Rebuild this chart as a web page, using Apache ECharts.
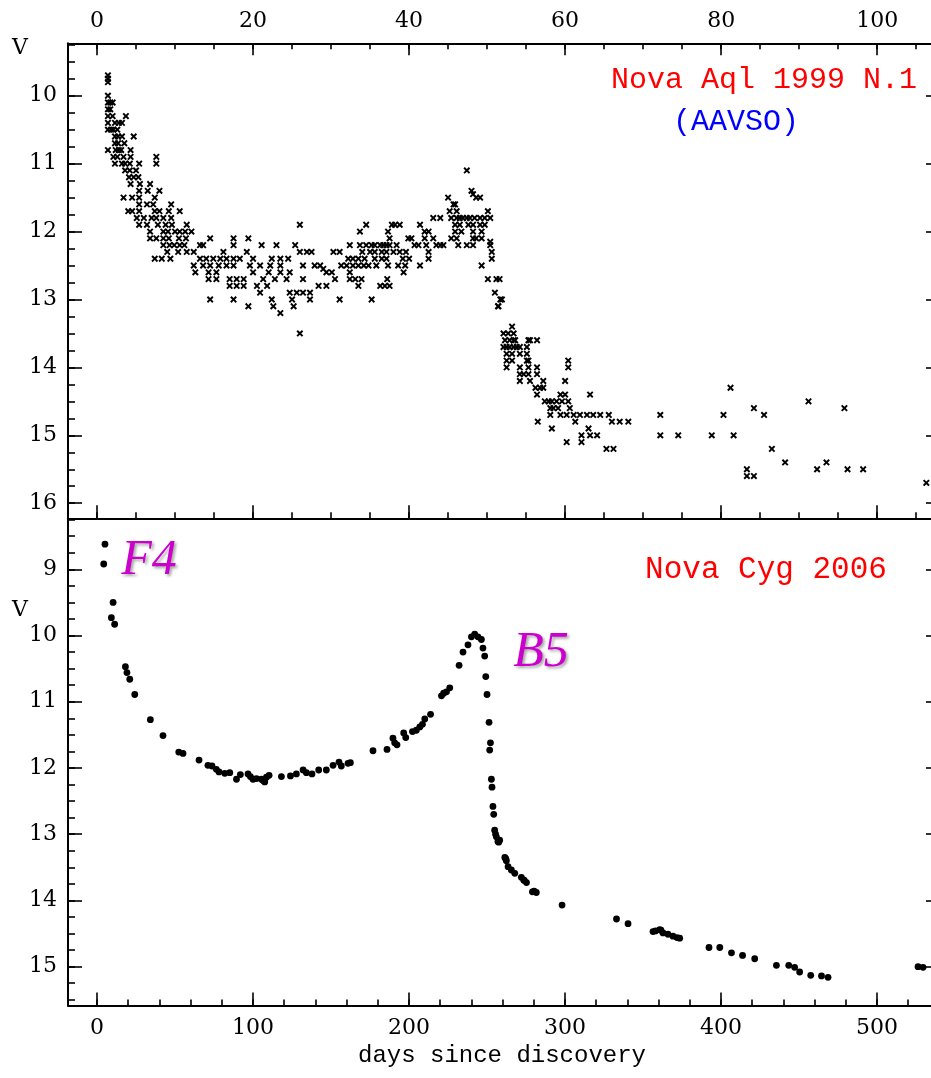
<!DOCTYPE html>
<html><head><meta charset="utf-8">
<script src="https://cdn.jsdelivr.net/npm/echarts@6.0.0/dist/echarts.min.js"></script>
<style>html,body{margin:0;padding:0;background:#fff}#c{width:931px;height:1078px}</style>
</head><body><div id="c"></div>
<script>
// ---- Nova Aql 1999 N.1 (AAVSO) : [day, V] ----
const aqlRise = [[1.4,9.7],[1.4,9.75],[1.4,9.8],[1.4,10.0],[1.4,10.1],[1.7,10.1],[2.0,10.1],[1.4,10.2],[1.7,10.2],[1.4,10.3],[2.0,10.3],[3.7,10.3],[1.4,10.4],[2.3,10.4],[2.8,10.4],[3.2,10.4],[1.4,10.5],[1.8,10.5],[2.1,10.5],[2.6,10.5],[2.3,10.6],[2.7,10.6],[3.2,10.6],[4.7,10.6],[2.3,10.7],[2.7,10.7],[3.5,10.7],[1.4,10.8],[2.4,10.8],[2.8,10.8],[3.1,10.8],[4.3,10.8],[2.1,10.9],[2.6,10.9],[3.4,10.9],[4.3,10.9],[7.6,10.9],[2.3,11.0],[3.2,11.0],[3.6,11.0],[4.2,11.0],[5.4,11.0],[7.6,11.0],[3.6,11.1],[4.2,11.1],[5.0,11.1],[4.1,11.2],[4.7,11.2],[5.3,11.2],[4.3,11.3],[5.5,11.3],[6.8,11.3],[5.4,11.4],[6.5,11.4],[8.0,11.4],[3.4,11.5],[4.5,11.5],[5.4,11.5],[7.4,11.5],[5.4,11.6],[6.4,11.6],[7.2,11.6],[9.5,11.6],[4.0,11.7],[4.5,11.7],[5.4,11.7],[7.4,11.7],[8.0,11.7],[9.2,11.7],[10.6,11.7],[5.1,11.8],[6.0,11.8],[7.0,11.8],[7.6,11.8],[8.5,11.8],[9.5,11.8],[5.4,11.9],[6.4,11.9],[7.8,11.9],[8.8,11.9],[9.6,11.9],[11.5,11.9],[6.8,12.0],[8.5,12.0],[9.1,12.0],[10.0,12.0],[10.6,12.0],[11.3,12.0],[12.1,12.0],[6.8,12.1],[7.6,12.1],[8.5,12.1],[9.2,12.1],[10.5,12.1],[11.4,12.1],[8.5,12.2],[9.3,12.2],[9.9,12.2],[10.6,12.2],[11.2,12.2],[9.0,12.3],[10.4,12.3],[11.5,12.3],[12.4,12.3],[7.4,12.4],[8.3,12.4],[9.4,12.4]];
const aqlPlateau = [[12.4,12.5],[12.6,12.6],[13.2,12.2],[13.6,12.2],[14.5,12.1],[13.2,12.4],[14.0,12.4],[14.9,12.4],[15.8,12.4],[16.6,12.4],[17.5,12.4],[18.3,12.4],[13.6,12.5],[14.5,12.5],[15.6,12.5],[16.6,12.5],[17.5,12.5],[14.3,12.6],[15.3,12.6],[14.3,12.7],[15.3,12.7],[16.2,12.3],[17.5,12.1],[17.5,12.2],[19.4,12.1],[17.0,12.7],[17.9,12.7],[18.8,12.7],[17.0,12.8],[17.9,12.8],[18.8,12.8],[14.5,13.0],[17.5,13.0],[19.4,13.1],[19.2,12.3],[20.0,12.4],[20.9,12.5],[20.0,12.6],[21.3,12.7],[20.5,12.8],[20.9,12.9],[19.6,12.5],[21.1,12.2],[23.0,12.2],[25.4,12.2],[22.4,12.4],[23.5,12.4],[24.5,12.4],[22.2,12.5],[23.5,12.5],[22.0,12.6],[23.5,12.6],[24.7,12.6],[22.8,12.7],[24.3,12.7],[21.8,12.8],[22.6,13.1],[23.5,13.2],[22.4,13.0],[25.0,13.0],[25.2,13.1],[24.7,12.9],[25.6,12.9],[26.4,12.9],[27.3,12.9],[26.0,11.9],[26.0,12.3],[26.9,12.3],[27.5,12.3],[27.3,13.0],[26.0,13.5],[26.4,12.5],[26.4,12.7],[27.9,12.5],[28.6,12.5],[29.0,12.55],[29.4,12.6],[30.1,12.6],[30.5,12.7],[28.4,12.8],[29.4,12.8],[30.3,12.3],[31.1,12.3],[31.3,12.5],[32.0,12.5],[32.4,12.6],[32.8,12.5],[33.5,12.5],[34.2,12.5],[34.8,12.5],[32.2,12.4],[32.8,12.4],[33.5,12.4],[32.4,12.2],[33.7,12.2],[31.1,13.0],[32.4,12.7],[33.1,12.7],[33.9,12.7],[33.5,12.8],[33.7,12.0],[34.5,11.9],[34.0,12.3],[34.3,12.4]];
const aqlSecondPeak = [[35.2,13.0],[34.5,12.2],[35.2,12.2],[35.6,12.2],[36.3,12.2],[36.7,12.2],[35.0,12.3],[35.6,12.3],[36.5,12.3],[37.1,12.3],[38.0,12.3],[35.6,12.4],[36.5,12.4],[37.1,12.4],[37.3,12.5],[35.8,12.5],[36.3,12.8],[36.9,12.8],[37.5,12.8],[37.2,12.7],[37.3,12.0],[37.8,11.9],[38.2,11.9],[38.8,11.9],[37.5,12.1],[37.1,12.2],[37.5,12.2],[38.4,12.2],[38.8,12.3],[39.2,12.4],[39.5,12.5],[38.6,12.5],[39.3,12.6],[39.6,12.3],[40.0,12.4],[39.9,12.1],[40.3,12.1],[40.7,12.2],[41.2,12.2],[41.4,12.5],[41.4,11.9],[42.0,12.0],[42.5,12.0],[42.0,12.1],[42.2,12.2],[42.5,12.3],[42.5,12.4],[43.1,12.1],[43.5,12.2],[44.0,12.2],[44.4,12.2],[43.1,11.8],[44.0,11.8],[45.0,11.5],[45.7,11.6],[45.9,11.6],[46.1,11.7],[45.2,11.7],[45.4,11.8],[46.1,11.8],[46.5,11.8],[46.9,11.8],[47.4,11.8],[47.8,11.8],[48.4,11.8],[49.1,11.8],[49.7,11.8],[50.4,11.8],[47.4,11.1],[48.0,11.4],[48.2,11.45],[48.6,11.5],[49.1,11.5],[45.9,11.9],[46.5,11.9],[47.6,11.9],[48.2,11.9],[49.1,11.9],[49.7,11.9],[50.1,11.7],[45.9,12.0],[46.7,12.0],[48.2,12.0],[49.3,12.0],[45.4,12.1],[46.1,12.1],[48.2,12.1],[48.6,12.1],[49.3,12.1],[50.4,12.15],[46.3,12.2],[47.4,12.2],[48.2,12.2],[50.4,12.2],[50.6,12.3],[50.6,12.4],[49.3,12.5],[50.1,12.7],[51.2,12.7],[51.6,12.7],[51.0,12.9],[51.7,13.0],[51.4,13.1]];
const aqlFade = [[51.45,13.1],[51.9,13.0],[52.1,13.5],[52.7,13.5],[53.4,13.5],[53.2,13.4],[52.3,13.6],[52.9,13.6],[53.4,13.6],[53.6,13.6],[52.1,13.7],[52.5,13.7],[52.9,13.7],[53.4,13.7],[53.8,13.7],[54.2,13.7],[55.1,13.7],[55.3,13.6],[55.5,13.6],[56.4,13.6],[52.5,13.8],[53.2,13.8],[54.2,13.8],[55.1,13.8],[52.5,13.9],[53.2,13.9],[55.1,13.9],[55.3,13.9],[52.5,14.0],[54.2,14.0],[55.3,14.0],[56.4,14.0],[54.2,14.1],[55.3,14.1],[56.4,14.1],[54.7,14.1],[54.2,14.2],[55.5,14.2],[57.2,14.2],[56.2,14.3],[56.8,14.3],[57.2,14.3],[56.4,14.4],[59.4,14.4],[60.0,14.4],[63.2,14.4],[57.4,14.5],[57.9,14.5],[58.3,14.5],[58.9,14.5],[59.6,14.5],[60.4,14.5],[58.1,14.6],[58.5,14.6],[59.1,14.6],[60.6,14.6],[58.1,14.7],[59.4,14.7],[60.2,14.7],[61.1,14.7],[61.9,14.7],[62.8,14.7],[63.6,14.7],[64.5,14.7],[65.6,14.7],[66.0,14.8],[67.0,14.8],[68.1,14.8],[61.3,14.8],[56.5,14.8],[58.3,14.9],[63.0,14.9],[60.2,15.1],[62.1,15.1],[62.1,15.0],[63.2,15.0],[64.1,15.0],[65.3,15.2],[66.2,15.2],[60.4,13.9],[60.4,14.0],[60.0,14.2]];
const aqlLate = [[72.2,14.7],[72.2,15.0],[74.5,15.0],[78.8,15.0],[81.6,15.0],[80.3,14.7],[81.2,14.3],[84.2,14.6],[85.5,14.7],[83.3,15.5],[83.3,15.6],[84.2,15.6],[86.5,15.2],[88.2,15.4],[91.2,14.5],[92.3,15.5],[93.5,15.4],[95.8,14.6],[96.2,15.5],[98.2,15.5],[106.3,15.7]];

// ---- Nova Cyg 2006 : [day, V] ----
const cygEarly = [[4.3,8.92],[5.1,8.62],[9.2,9.73],[10.3,9.50],[11.3,9.83],[18.2,10.47],[19.2,10.56],[21.0,10.66],[24.2,10.89],[34.2,11.27],[42.3,11.51],[52.4,11.76],[55.1,11.78],[65.4,11.88],[71.1,11.96],[73.7,11.97],[76.5,12.02],[78.2,12.06],[81.9,12.08],[85.1,12.07],[89.4,12.17],[91.9,12.10],[96.8,12.09],[98.3,12.13],[100,12.17],[102.2,12.16],[105.4,12.17],[106.5,12.19],[107.5,12.21],[108.6,12.14],[110.3,12.11],[118.2,12.13],[124,12.12],[127.8,12.09]];
const cygRebright = [[132.1,12.03],[134.2,12.07],[137.8,12.09],[142.1,12.03],[147,12.03],[151.3,11.96],[155.1,11.91],[156.6,11.97],[160.9,11.93],[162.4,11.92],[176.9,11.74],[185.9,11.72],[189.7,11.55],[190.8,11.62],[192.3,11.65],[196.6,11.47],[197.9,11.54],[202.2,11.45],[204.7,11.43],[206.9,11.38],[208.6,11.34],[210.1,11.26],[213.8,11.19],[220.8,10.91],[222.2,10.87],[224,10.85],[226.1,10.79],[232.1,10.45],[234.6,10.25],[237.8,10.14],[240,10.02],[242.1,9.98],[244.2,10.02],[246.4,10.06],[247.4,10.19],[248.5,10.31]];
const cygDrop = [[249.2,10.62],[250,10.89],[251.3,11.31],[252.2,11.62],[251.7,11.73],[252.8,12.17],[253.2,12.29],[253.8,12.58],[254.3,12.70],[254.9,12.94],[255.5,13.0],[256,13.04],[257,13.11],[257.5,13.12],[258.1,13.09],[261.4,13.35],[262,13.37],[262.4,13.40],[263.5,13.49],[265.6,13.54],[267.8,13.59],[272,13.65],[273.5,13.69],[274,13.7],[275.3,13.73],[279.1,13.87],[280.2,13.86],[281.6,13.88]];
const cygTail = [[298.1,14.07],[333,14.28],[340.4,14.35],[356.4,14.47],[358,14.46],[360.7,14.44],[361.5,14.45],[362.8,14.49],[366,14.51],[369.2,14.54],[371.8,14.56],[373.5,14.57],[392.3,14.71],[399.2,14.71],[406.7,14.79],[413.8,14.83],[421.6,14.88],[435.5,14.98],[443.4,14.98],[447.2,15.01],[450.4,15.08],[457.5,15.13],[464.4,15.14],[468.6,15.16],[526.3,15.0],[529.5,15.01]];

// ---- tick labels ----
const topDayTicks = [0, 20, 40, 60, 80, 100];
const bottomDayTicks = [0, 100, 200, 300, 400, 500];
const topMagTicks = [10, 11, 12, 13, 14, 15, 16];
const bottomMagTicks = [9, 10, 11, 12, 13, 14, 15];

function steps(a, b, s) { const r = []; for (let v = a; v <= b + 1e-9; v += s) r.push(+v.toFixed(3)); return r; }
const topDayMinor = steps(0, 105, 5);
const bottomDayMinor = steps(0, 520, 20);
const topMagMinor = steps(9.25, 16, 0.25);
const bottomMagMinor = steps(8.25, 15.5, 0.25);

const SERIF = 'DejaVu Serif';
const MONO = 'Liberation Mono';
const X1 = [-3.72, 106.9], X2 = [-18.6, 534.6];
const Y1 = [9.228, 16.222], Y2 = [8.23, 15.586];

function ax(kind, gi, pos, range, ticks, len, line, label, margin, inverse) {
  return {
    type: 'value', gridIndex: gi, position: pos, min: range[0], max: range[1], inverse: !!inverse,
    axisLine: { show: line, onZero: false, lineStyle: { color: '#000', width: 2 } },
    axisTick: { show: true, inside: true, length: len, customValues: ticks, lineStyle: { color: '#000', width: 1.6 } },
    axisLabel: { show: label, customValues: ticks, margin: margin || 10, color: '#000', fontFamily: SERIF, fontSize: 22 },
    splitLine: { show: false }, minorTick: { show: false }, axisPointer: { show: false }
  };
}

const crossPath = 'path://M0,2L2,0L5,3L8,0L10,2L7,5L10,8L8,10L5,7L2,10L0,8L3,5Z';
function aqlSeries(d) { return { type: 'scatter', xAxisIndex: 0, yAxisIndex: 0, data: d, symbol: crossPath, symbolSize: 6.8, itemStyle: { color: '#000', opacity: 1 }, silent: true }; }
function cygSeries(d) { return { type: 'scatter', xAxisIndex: 4, yAxisIndex: 3, data: d, symbol: 'circle', symbolSize: 6.8, itemStyle: { color: '#000', opacity: 1 }, silent: true }; }

const chart = echarts.init(document.getElementById('c'));
chart.setOption({
  animation: false,
  backgroundColor: '#fff',
  grid: [
    { left: 68, right: 0, top: 43.3, height: 475, containLabel: false, outerBoundsMode: 'none' },
    { left: 68, right: 0, top: 518.3, height: 487.2, containLabel: false, outerBoundsMode: 'none' }
  ],
  xAxis: [
    ax('x', 0, 'top', X1, topDayTicks, 12, true, true, 11),
    ax('x', 0, 'top', X1, topDayMinor, 6, false, false),
    ax('x', 0, 'bottom', X1, topDayTicks, 13, true, false),
    ax('x', 0, 'bottom', X1, topDayMinor, 6, false, false),
    ax('x', 1, 'bottom', X2, bottomDayTicks, 13, true, true, 12),
    ax('x', 1, 'bottom', X2, bottomDayMinor, 6, false, false)
  ],
  yAxis: [
    ax('y', 0, 'left', Y1, topMagTicks, 14, true, true, 11, true),
    ax('y', 0, 'left', Y1, topMagMinor, 7, false, false, 0, true),
    ax('y', 0, 'right', Y1, topMagTicks, 5, false, false, 0, true),
    ax('y', 1, 'left', Y2, bottomMagTicks, 14, true, true, 11, true),
    ax('y', 1, 'left', Y2, bottomMagMinor, 7, false, false, 0, true),
    ax('y', 1, 'right', Y2, bottomMagTicks, 5, false, false, 0, true)
  ],
  series: [
    aqlSeries(aqlRise), aqlSeries(aqlPlateau), aqlSeries(aqlSecondPeak), aqlSeries(aqlFade), aqlSeries(aqlLate),
    cygSeries(cygEarly), cygSeries(cygRebright), cygSeries(cygDrop), cygSeries(cygTail)
  ],
  graphic: [
    { type: 'text', x: 20, y: 48, style: { text: 'V', fill: '#000', fontFamily: SERIF, fontSize: 22, align: 'center', verticalAlign: 'middle' } },
    { type: 'text', x: 20, y: 610, style: { text: 'V', fill: '#000', fontFamily: SERIF, fontSize: 22, align: 'center', verticalAlign: 'middle' } },
    { type: 'text', x: 502, y: 1056, style: { text: 'days since discovery', fill: '#000', fontFamily: MONO, fontSize: 24, align: 'center', verticalAlign: 'middle' } },
    { type: 'text', x: 917, y: 80, style: { text: 'Nova Aql 1999 N.1', fill: '#ff0000', fontFamily: MONO, fontSize: 30, align: 'right', verticalAlign: 'middle' } },
    { type: 'text', x: 736, y: 122, style: { text: '(AAVSO)', fill: '#0000ff', fontFamily: MONO, fontSize: 30, align: 'center', verticalAlign: 'middle' } },
    { type: 'text', x: 766, y: 570, style: { text: 'Nova Cyg 2006', fill: '#ff0000', fontFamily: MONO, fontSize: 31, align: 'center', verticalAlign: 'middle' } },
    { type: 'text', x: 149, y: 561, style: { text: 'F4', fill: '#cc00cc', fontFamily: 'Liberation Serif', fontStyle: 'italic', fontSize: 50, align: 'center', verticalAlign: 'middle', textShadowColor: 'rgba(0,0,0,0.35)', textShadowBlur: 3, textShadowOffsetX: 2, textShadowOffsetY: 2 } },
    { type: 'text', x: 541, y: 653, style: { text: 'B5', fill: '#cc00cc', fontFamily: 'Liberation Serif', fontStyle: 'italic', fontSize: 50, align: 'center', verticalAlign: 'middle', textShadowColor: 'rgba(0,0,0,0.35)', textShadowBlur: 3, textShadowOffsetX: 2, textShadowOffsetY: 2 } }
  ]
});
</script></body></html>
